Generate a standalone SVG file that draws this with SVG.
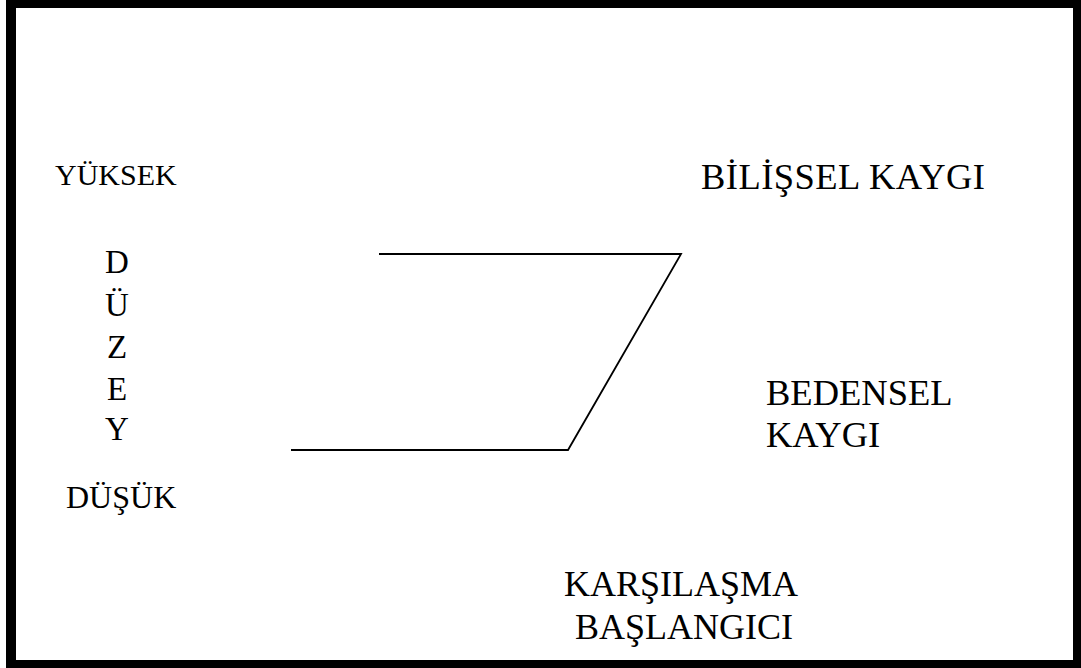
<svg xmlns="http://www.w3.org/2000/svg" width="1081" height="668" viewBox="0 0 1081 668">
<style>
text{font-family:"Liberation Serif","Times New Roman",serif;fill:#000}
.l{stroke:#000;stroke-width:1.8;fill:none}
</style>
<rect x="0" y="0" width="1081" height="668" fill="#fff"/>
<path d="M6 0H1081V668H6Z M16 8V660H1073V8Z" fill="#000" fill-rule="evenodd"/>
<g id="connectors">
<polyline class="l" points="379,254 681,254 568,450 291,450"/>
</g>
<g id="yuksek"><text x="55" y="185" font-size="30">YÜKSEK</text></g>
<g id="duzey" font-size="33" text-anchor="middle">
<text x="117" y="273">D</text>
<text x="117" y="316">Ü</text>
<text x="117" y="358">Z</text>
<text x="117" y="400">E</text>
<text x="117" y="440">Y</text>
</g>
<g id="dusuk"><text x="66" y="508" font-size="32">DÜŞÜK</text></g>
<g id="bilissel"><text x="701" y="189" font-size="36.5" textLength="284" lengthAdjust="spacing">BİLİŞSEL KAYGI</text></g>
<g id="bedensel"><text x="766" y="405" font-size="36.5">BEDENSEL</text><text x="766" y="447" font-size="36.5">KAYGI</text></g>
<g id="karsilasma"><text x="564" y="596" font-size="36">KARŞILAŞMA</text><text x="575" y="639" font-size="36">BAŞLANGICI</text></g>
</svg>
